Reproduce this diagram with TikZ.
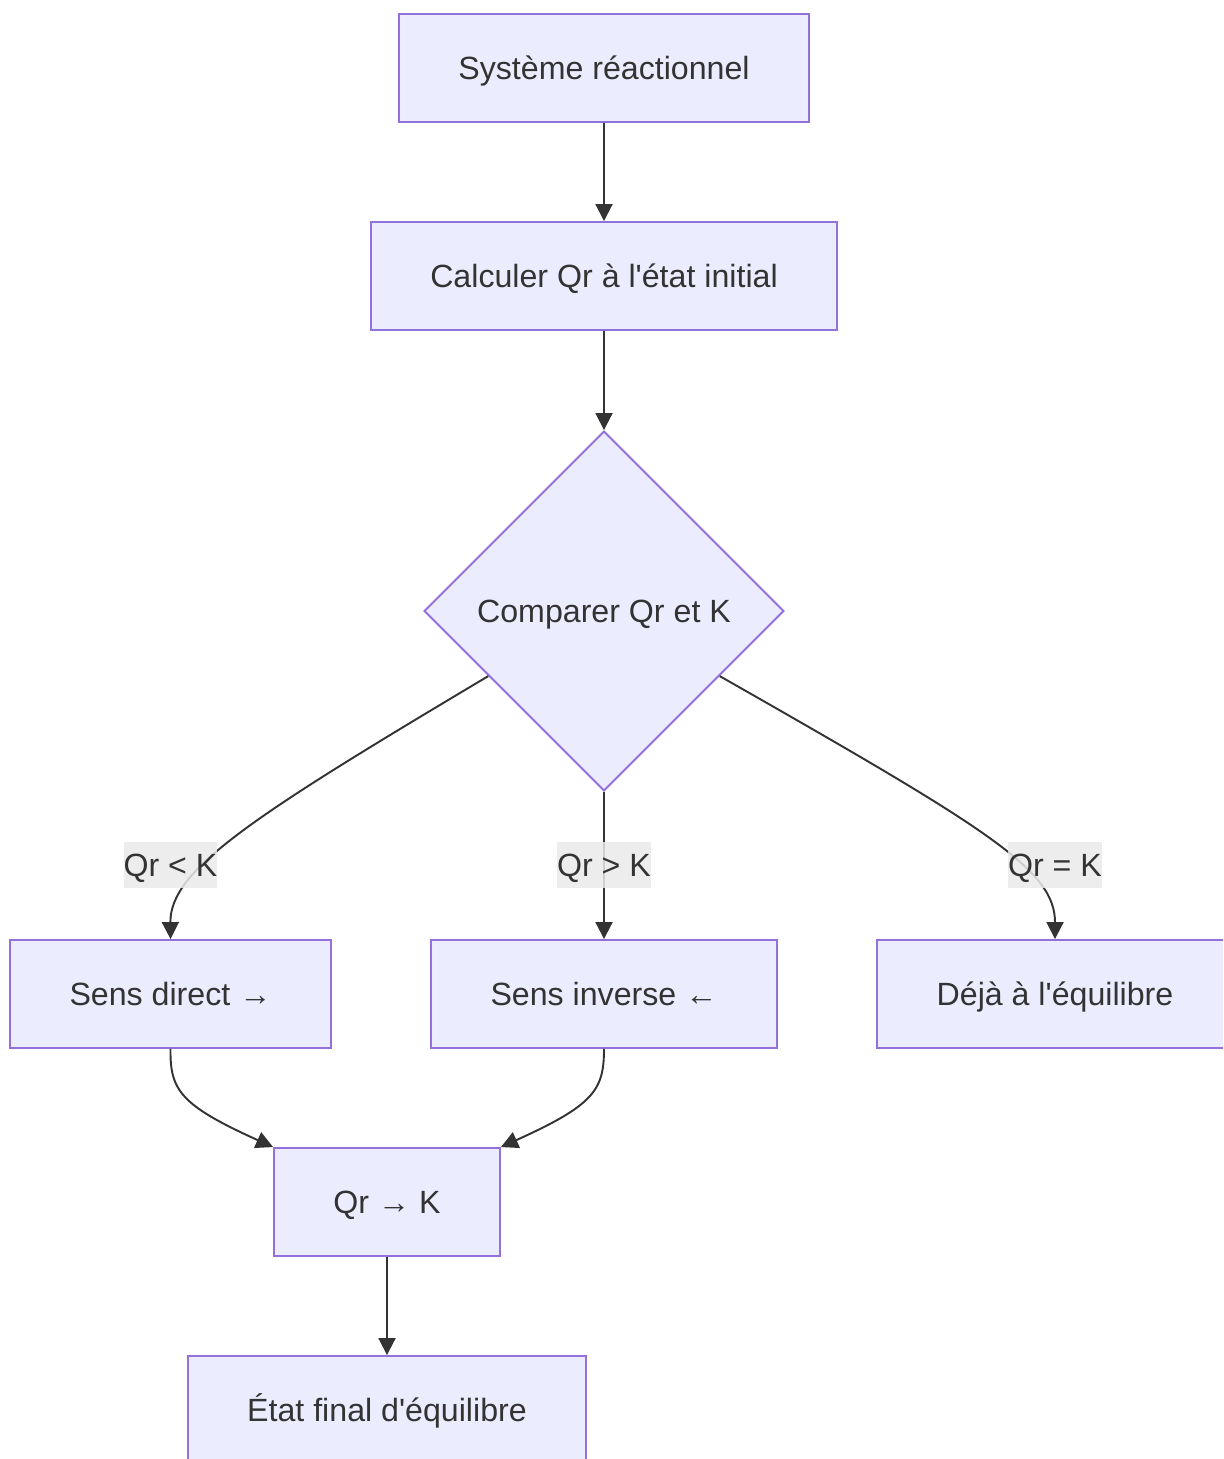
\documentclass[tikz,border=0pt]{standalone}
\usepackage{fontspec}
\setmainfont{Liberation Sans}[Ligatures=TeXOff]
\usepackage{tikz}
\usetikzlibrary{shapes.geometric}
\usetikzlibrary{arrows.meta}
\usetikzlibrary{calc}
\definecolor{mfill}{RGB}{236,236,255}
\definecolor{mborder}{RGB}{147,112,219}
\definecolor{mtext}{RGB}{51,51,51}
\definecolor{mlabel}{RGB}{234,234,234}

\begin{document}
\begin{tikzpicture}[x=0.02cm,y=-0.02cm,
  font=\fontsize{18.3}{22}\selectfont,
  every node/.style={text height=13.4pt,text depth=0pt},
  boite/.style={draw=mborder,fill=mfill,line width=1.1pt,text=mtext,minimum height=2.16cm,inner sep=0pt},
  losange/.style={diamond,draw=mborder,fill=mfill,line width=1.1pt,text=mtext,minimum width=7.2cm,minimum height=7.2cm,inner sep=0pt},
  etiq/.style={fill=mlabel,fill opacity=0.85,text opacity=1,text=mtext,inner sep=0pt,minimum height=0.92cm},
  fleche/.style={draw=mtext,line width=1.1pt,-{Triangle[length=0.34cm,width=0.34cm]}}]
\useasboundingbox (0,0) rectangle (1223,1459);
\clip (0,0) rectangle (1223,1459);

\node [boite,minimum width=8.2cm] (sys) at (604,68) {Système réactionnel};
\node [boite,minimum width=9.32cm] (calc) at (604,276) {Calculer Qr à l'état initial};
\node [losange] (cmp) at (604,611) {Comparer Qr et K};
\node [boite,minimum width=6.42cm] (dir) at (170.5,994) {Sens direct →};
\node [boite,minimum width=6.92cm] (inv) at (604,994) {Sens inverse ←};
\node [boite,minimum width=7.12cm] (eq) at (1055,994) {Déjà à l'équilibre};
\node [boite,minimum width=4.52cm] (qk) at (387,1202) {Qr → K};
\node [boite,minimum width=7.96cm] (fin) at (387,1410) {État final d'équilibre};

\coordinate (cg) at ($(cmp.west)!0.36!(cmp.south)$);
\coordinate (cd) at ($(cmp.east)!0.36!(cmp.south)$);

\draw [fleche] (sys) -- (calc);
\draw [fleche] (calc) -- (cmp);
\draw [fleche] (cg) .. controls (250,818) and (170,870) .. (dir.north);
\draw [fleche] (cmp.south) -- (inv.north);
\draw [fleche] (cd) .. controls (990,830) and (1055,870) .. (eq.north);
\draw [fleche] (dir.south) .. controls (170,1090) and (180,1105) .. (qk.north west);
\draw [fleche] (inv.south) .. controls (604,1090) and (594,1105) .. (qk.north east);
\draw [fleche] (qk) -- (fin);

\node [etiq] (lt) at (170.5,865) {Qr < K};
\node [etiq] (gt) at (604,865) {Qr > K};
\node [etiq] (eg) at (1055,865) {Qr = K};

\end{tikzpicture}
\end{document}
